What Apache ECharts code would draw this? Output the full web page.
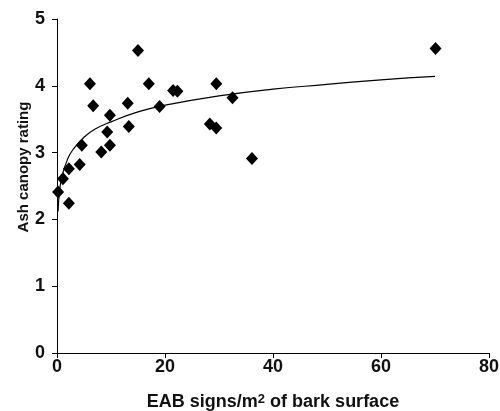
<!DOCTYPE html>
<html>
<head>
<meta charset="utf-8">
<script src="https://cdn.jsdelivr.net/npm/echarts@6/dist/echarts.min.js"></script>
<style>
  html, body { margin: 0; padding: 0; background: #fff; }
  #chart { width: 500px; height: 411px; }
</style>
</head>
<body>
<div id="chart"></div>
<script>
  // EAB signs per m2 (x) and ash canopy rating (y)
  const eabSigns = [0.2, 1.1, 2.2, 2.2, 4.2, 4.6, 6.1, 6.7, 8.2, 9.3, 9.8, 9.8,
    13.1, 13.3, 15.0, 17.0, 19.0, 21.5, 22.3, 28.3, 29.5, 29.5, 32.5, 36.1, 70.1]
  const canopyRating = [2.41, 2.61, 2.76, 2.24, 2.82, 3.11, 4.03, 3.70, 3.01, 3.31, 3.11, 3.56,
    3.74, 3.39, 4.53, 4.03, 3.69, 3.93, 3.92, 3.43, 3.37, 4.03, 3.82, 2.91, 4.56]

  // trend line points
  const trendX = [0.2, 0.5, 1, 2, 3, 5, 7, 10, 15, 20, 30, 40, 50, 60, 70]
  const trendY = [2.12, 2.44, 2.67, 2.91, 3.05, 3.23, 3.35, 3.46, 3.61, 3.71, 3.85, 3.95, 4.02, 4.09, 4.14]

  const xTicks = [0, 20, 40, 60, 80]
  const yTicks = [0, 1, 2, 3, 4, 5]

  const chart = echarts.init(document.getElementById('chart'))
  const font = 'Liberation Sans, Arial, sans-serif'

  const option = {
    animation: false,
    grid: { left: 57, right: 11, top: 19, bottom: 58, outerBoundsMode: 'none' },
    xAxis: {
      type: 'value',
      min: xTicks[0],
      max: xTicks[xTicks.length - 1],
      interval: 20,
      splitLine: { show: false },
      axisLine: { lineStyle: { color: '#000', width: 1 } },
      axisTick: { length: 5, lineStyle: { color: '#000' } },
      axisLabel: { color: '#111', fontSize: 18, fontWeight: 'bold', fontFamily: font, margin: 5 },
      name: 'EAB signs/m{sup|2} of bark surface',
      nameLocation: 'middle',
      nameGap: 40,
      nameMoveOverlap: false,
      nameTextStyle: {
        color: '#111', fontSize: 18, fontWeight: 'bold', fontFamily: font,
        rich: {
          sup: { fontSize: 13, fontWeight: 'bold', fontFamily: font, color: '#111', verticalAlign: 'top', padding: [0, 0, 6, 0] }
        }
      }
    },
    yAxis: {
      type: 'value',
      min: yTicks[0],
      max: yTicks[yTicks.length - 1],
      interval: 1,
      splitLine: { show: false },
      axisLine: { show: true, lineStyle: { color: '#000', width: 1 } },
      axisTick: { show: true, length: 5, lineStyle: { color: '#000' } },
      axisLabel: { color: '#111', fontSize: 18, fontWeight: 'bold', fontFamily: font, margin: 12 },
      name: 'Ash canopy rating',
      nameLocation: 'middle',
      nameGap: 26,
      nameMoveOverlap: false,
      nameTextStyle: { color: '#111', fontSize: 15, fontWeight: 'bold', fontFamily: font, padding: [0, 0, 0, 38] }
    },
    series: [
      {
        type: 'line',
        data: trendX.map((x, i) => [x, trendY[i]]),
        smooth: true,
        showSymbol: false,
        lineStyle: { color: '#000', width: 1.2 },
        z: 1
      },
      {
        type: 'scatter',
        data: eabSigns.map((x, i) => [x, canopyRating[i]]),
        symbol: 'diamond',
        symbolSize: [12, 13],
        itemStyle: { color: '#000', opacity: 1 },
        z: 2
      }
    ]
  }
  chart.setOption(option)
</script>
</body>
</html>
